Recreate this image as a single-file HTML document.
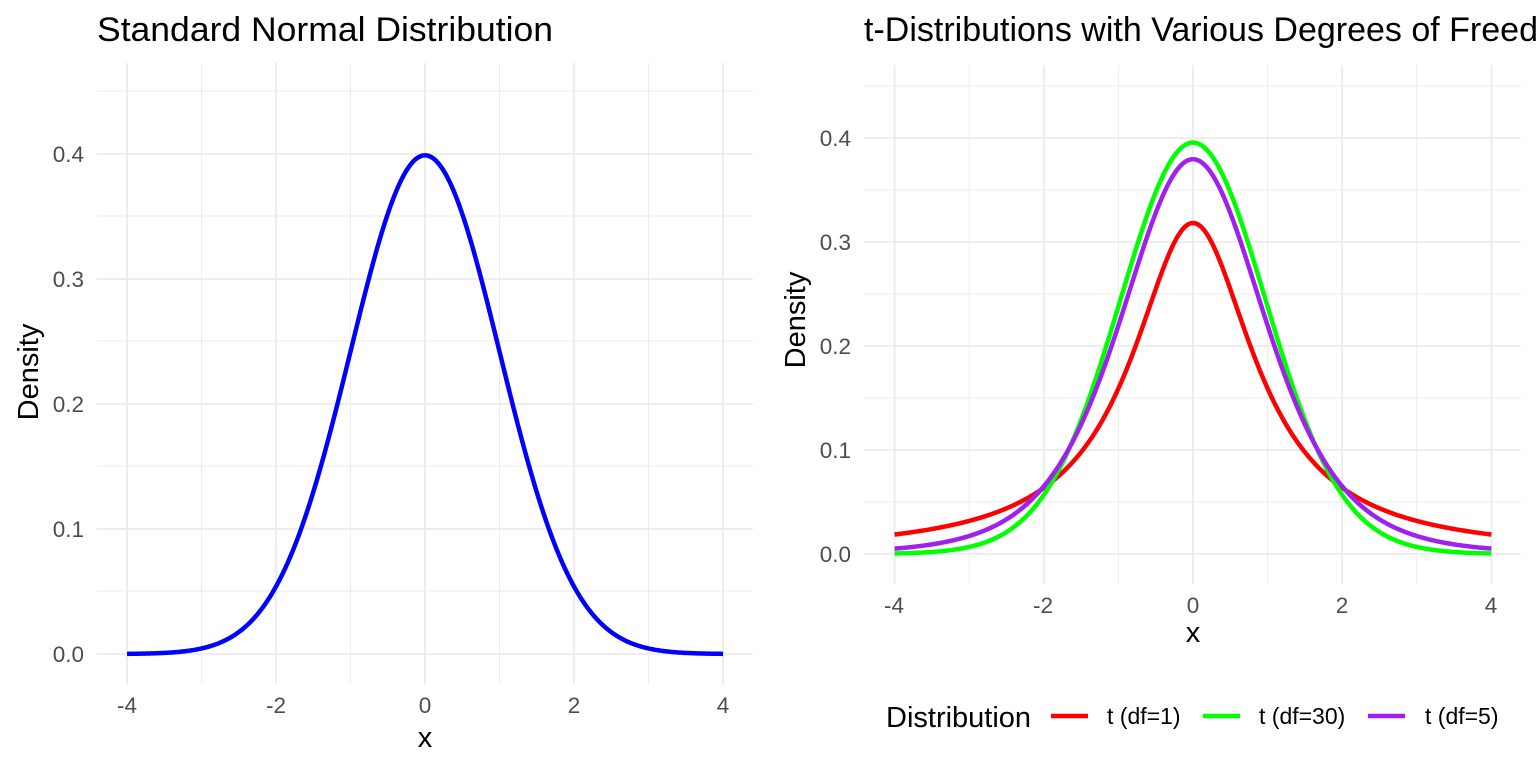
<!DOCTYPE html><html><head><style>body{margin:0;background:#fff}</style></head><body>
<svg id="s" width="1536" height="768" xmlns="http://www.w3.org/2000/svg" font-family="Liberation Sans, sans-serif">
<rect width="1536" height="768" fill="#fff"/>
<g id="g"></g>
<text x="97" y="41" font-size="34" fill="#000" textLength="456" lengthAdjust="spacingAndGlyphs">Standard Normal Distribution</text>
<text x="864" y="41" font-size="34" fill="#000">t-Distributions with Various Degrees of Freedom</text>
<g font-size="22.5" fill="#4d4d4d" text-anchor="end">
<text x="84" y="662">0.0</text><text x="84" y="537">0.1</text><text x="84" y="412">0.2</text><text x="84" y="287">0.3</text><text x="84" y="162">0.4</text>
<text x="851" y="562">0.0</text><text x="851" y="458">0.1</text><text x="851" y="354">0.2</text><text x="851" y="250">0.3</text><text x="851" y="146">0.4</text>
</g>
<g font-size="22.5" fill="#4d4d4d" text-anchor="middle">
<text x="127" y="713">-4</text><text x="276" y="713">-2</text><text x="425" y="713">0</text><text x="574" y="713">2</text><text x="723" y="713">4</text>
<text x="894" y="613">-4</text><text x="1043" y="613">-2</text><text x="1193" y="613">0</text><text x="1342" y="613">2</text><text x="1491" y="613">4</text>
</g>
<text x="425" y="747" font-size="29" text-anchor="middle">x</text>
<text x="1193" y="642" font-size="29" text-anchor="middle">x</text>
<text transform="translate(38,372) rotate(-90)" font-size="29" text-anchor="middle">Density</text>
<text transform="translate(805,320) rotate(-90)" font-size="29" text-anchor="middle">Density</text>
<text x="886" y="727" font-size="29">Distribution</text>
<line x1="1051" x2="1088" y1="716" y2="716" stroke="#f00" stroke-width="4.5"/>
<line x1="1203" x2="1240" y1="716" y2="716" stroke="#0f0" stroke-width="4.5"/>
<line x1="1368" x2="1405" y1="716" y2="716" stroke="#a020f0" stroke-width="4.5"/>
<g font-size="23"><text x="1107" y="724">t (df=1)</text><text x="1259" y="724">t (df=30)</text><text x="1425" y="724">t (df=5)</text></g>
</svg>
<script>
var g=document.getElementById('g'),h='';
function L(x1,y1,x2,y2,w){h+='<line x1="'+x1+'" y1="'+y1+'" x2="'+x2+'" y2="'+y2+'" stroke="#ebebeb" stroke-width="'+w+'"/>';}
for(var i=0;i<=4;i++){L(97,654-125*i,753,654-125*i,1.8);L(97,591-125*i,753,591-125*i,0.9);}
for(var i=-4;i<=4;i++){var x=425+74.5*i;L(x,63,x,684,i%2==0?1.8:0.9);}
for(var i=0;i<=4;i++){L(864,554-104*i,1521,554-104*i,1.8);L(864,502-104*i,1521,502-104*i,0.9);}
for(var i=-4;i<=4;i++){var x=1193+74.6*i;L(x,65,x,584,i%2==0?1.8:0.9);}
function P(f,x0,sx,y0,sy,col){var d='';for(var k=0;k<=400;k++){var x=-4+8*k/400;d+=(k?'L':'M')+(x0+sx*x).toFixed(2)+' '+(y0-sy*f(x)).toFixed(2);}
h+='<path d="'+d+'" fill="none" stroke="'+col+'" stroke-width="4.5"/>';}
P(function(x){return Math.exp(-x*x/2)/Math.sqrt(2*Math.PI)},425,74.5,654,1250,'#00f');
function T(c,n){return function(x){return c*Math.pow(1+x*x/n,-(n+1)/2)}}
P(T(0.318310,1),1193,74.6,554,1040,'#f00');
P(T(0.395593,30),1193,74.6,554,1040,'#0f0');
P(T(0.379607,5),1193,74.6,554,1040,'#a020f0');
g.innerHTML=h;
</script>
</body></html>
